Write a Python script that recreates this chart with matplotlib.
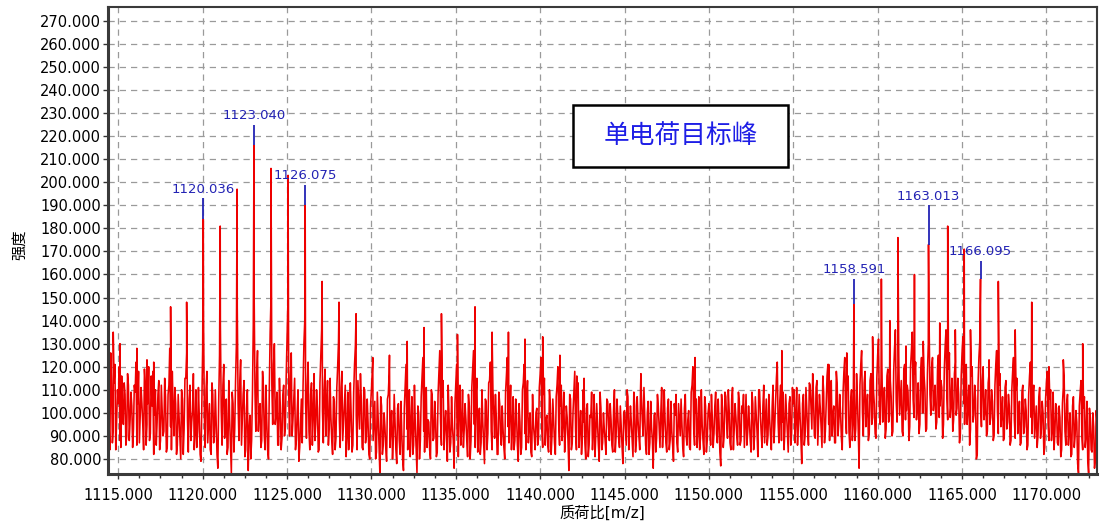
"""Spectre de masse : amas d'ions à charge unique, avec pics annotés."""

import numpy as np
import matplotlib

matplotlib.use("Agg")
import matplotlib.pyplot as plt
from matplotlib.patches import Rectangle
from matplotlib.ticker import FormatStrFormatter, MultipleLocator

plt.rcParams["font.family"] = ["DejaVu Sans", "Noto Sans CJK SC"]

RED = "#ee0000"
BLUE = "#2323b4"
GRID = "#9a9a9a"

# Bruit de fond, un point tous les 0,1 m/z à partir de 1114.4
NOISE_START = 1114.4
NOISE_STEP = 0.1
NOISE_ROWS = [
    [118, 84, 112, 92, 121, 96],
    [104, 88, 116, 95, 108, 90, 112, 97, 103, 93],
    [109, 86, 118, 99, 104, 84, 112, 95, 120, 91],
    [103, 82, 110, 96, 114, 88, 101, 92, 107, 85],
    [112, 94, 118, 90, 104, 86, 99, 80, 106, 93],
    [115, 97, 106, 88, 101, 84, 110, 92, 98, 79],
    [128, 99, 110, 87, 104, 82, 108, 91, 96, 76],
    [125, 101, 112, 89, 106, 85, 97, 74, 104, 93],
    [130, 104, 114, 86, 108, 81, 102, 75, 99, 88],
    [138, 109, 117, 92, 104, 88, 111, 84, 96, 80],
    [135, 112, 121, 95, 109, 86, 103, 89, 112, 94],
    [133, 108, 116, 90, 106, 84, 100, 79, 95, 87],
    [130, 104, 112, 92, 108, 86, 117, 95, 102, 84],
    [124, 101, 110, 90, 114, 93, 98, 82, 105, 89],
    [120, 97, 111, 88, 104, 81, 109, 92, 99, 86],
    [121, 99, 114, 93, 106, 84, 110, 90, 96, 80],
    [110, 88, 105, 83, 98, 74, 103, 86, 94, 79],
    [108, 85, 101, 89, 96, 78, 104, 82, 91, 75],
    [112, 93, 99, 81, 107, 86, 95, 74, 100, 88],
    [115, 92, 104, 85, 96, 80, 108, 89, 97, 83],
    [118, 96, 107, 84, 101, 79, 99, 87, 94, 76],
    [113, 90, 104, 86, 110, 93, 97, 81, 103, 88],
    [119, 95, 108, 83, 102, 87, 96, 78, 105, 91],
    [114, 92, 110, 89, 98, 82, 104, 86, 93, 80],
    [116, 94, 101, 84, 107, 88, 99, 79, 96, 85],
    [113, 91, 106, 87, 100, 81, 95, 84, 102, 89],
    [117, 93, 108, 86, 99, 83, 104, 90, 97, 82],
    [112, 95, 103, 88, 109, 91, 98, 75, 106, 87],
    [110, 92, 107, 85, 101, 89, 96, 80, 104, 86],
    [98, 84, 108, 91, 95, 79, 102, 87, 93, 82],
    [105, 88, 97, 83, 110, 90, 99, 85, 94, 78],
    [101, 86, 107, 92, 96, 81, 103, 88, 97, 84],
    [108, 90, 99, 82, 105, 87, 94, 76, 100, 89],
    [103, 85, 111, 93, 97, 83, 106, 88, 92, 79],
    [99, 87, 104, 90, 96, 81, 108, 86, 101, 84],
    [112, 93, 100, 85, 107, 89, 95, 82, 103, 88],
    [104, 86, 98, 91, 109, 87, 96, 77, 102, 90],
    [107, 89, 101, 84, 111, 93, 98, 86, 105, 88],
    [100, 85, 108, 92, 96, 83, 104, 89, 99, 81],
    [110, 91, 103, 87, 106, 90, 97, 84, 112, 94],
    [115, 96, 105, 88, 109, 92, 100, 83, 107, 91],
    [104, 87, 111, 95, 99, 78, 108, 90, 101, 86],
    [112, 93, 106, 89, 114, 97, 102, 85, 109, 92],
    [116, 95, 108, 90, 103, 87, 113, 96, 100, 84],
    [118, 98, 110, 92, 105, 88, 115, 93, 106, 76],
    [121, 100, 113, 94, 108, 91, 117, 98, 104, 89],
    [125, 103, 115, 96, 111, 93, 119, 99, 107, 92],
    [128, 105, 118, 99, 114, 90, 121, 101, 109, 94],
    [127, 106, 117, 97, 113, 95, 124, 100, 110, 93],
    [130, 108, 120, 101, 112, 96, 125, 103, 111, 95],
    [129, 107, 119, 98, 115, 97, 122, 102, 108, 91],
    [126, 104, 116, 95, 112, 93, 120, 99, 106, 82],
    [124, 102, 114, 97, 110, 92, 117, 98, 105, 90],
    [121, 100, 112, 94, 107, 89, 114, 96, 103, 88],
    [118, 97, 110, 91, 105, 87, 112, 94, 101, 86],
    [116, 98, 108, 89, 103, 90, 111, 93, 100, 85],
    [113, 95, 106, 88, 109, 91, 102, 86, 98, 84],
    [111, 92, 104, 86, 100, 82, 107, 90, 96, 74],
    [109, 90, 102, 85, 105, 74, 98, 83, 94, 80],
    [96],
]

# Points intermédiaires du bruit, décalés de +0,05 m/z
NOISE_MID_ROWS = [
    [95, 126, 87, 113, 84, 110],
    [120, 85, 101, 113, 86, 117, 88, 109, 85, 112],
    [122, 104, 87, 111, 95, 119, 86, 104, 88, 116],
    [118, 99, 86, 108, 84, 112, 90, 115, 83, 108],
    [128, 84, 102, 111, 82, 108, 91, 110, 82, 115],
    [126, 83, 112, 96, 117, 91, 85, 111, 82, 104],
    [142, 85, 118, 96, 84, 113, 87, 110, 82, 105],
    [138, 86, 121, 95, 82, 114, 86, 109, 83, 114],
    [146, 88, 123, 97, 114, 84, 110, 92, 80, 108],
    [152, 92, 127, 101, 85, 118, 90, 112, 84, 111],
    [150, 95, 130, 99, 86, 115, 84, 108, 90, 116],
    [148, 90, 126, 97, 115, 88, 110, 85, 106, 112],
    [140, 89, 122, 84, 113, 100, 88, 110, 83, 113],
    [136, 87, 119, 104, 86, 115, 88, 107, 84, 111],
    [131, 85, 118, 96, 112, 90, 84, 113, 83, 109],
    [129, 84, 103, 117, 85, 111, 87, 106, 82, 103],
    [118, 97, 80, 109, 86, 107, 82, 100, 85, 106],
    [117, 94, 80, 108, 84, 102, 88, 105, 80, 102],
    [121, 84, 110, 95, 82, 112, 84, 103, 80, 107],
    [124, 83, 111, 97, 84, 110, 88, 105, 81, 108],
    [127, 86, 114, 95, 89, 112, 83, 107, 88, 104],
    [121, 81, 112, 94, 85, 104, 88, 108, 80, 111],
    [127, 85, 115, 98, 82, 110, 87, 106, 84, 113],
    [122, 84, 101, 108, 82, 109, 91, 103, 85, 109],
    [124, 87, 112, 93, 84, 106, 86, 104, 82, 110],
    [121, 84, 114, 95, 83, 108, 90, 100, 86, 111],
    [124, 85, 115, 97, 86, 110, 82, 106, 87, 107],
    [120, 86, 112, 96, 83, 103, 88, 108, 84, 101],
    [118, 84, 113, 94, 82, 110, 87, 102, 81, 99],
    [109, 92, 81, 104, 86, 109, 84, 100, 88, 106],
    [95, 104, 86, 101, 83, 106, 89, 103, 86, 100],
    [93, 110, 84, 103, 88, 109, 83, 107, 90, 111],
    [97, 111, 86, 100, 82, 105, 88, 99, 83, 108],
    [94, 100, 85, 110, 87, 102, 84, 105, 86, 104],
    [108, 83, 97, 106, 85, 102, 90, 97, 85, 109],
    [120, 86, 106, 93, 84, 110, 88, 107, 83, 100],
    [97, 108, 85, 103, 91, 106, 83, 108, 85, 109],
    [96, 110, 87, 106, 84, 104, 90, 109, 86, 103],
    [108, 96, 86, 103, 88, 109, 84, 107, 92, 110],
    [99, 85, 112, 96, 86, 108, 90, 103, 87, 105],
    [122, 87, 112, 96, 84, 108, 91, 104, 86, 111],
    [110, 98, 86, 108, 89, 104, 86, 111, 92, 113],
    [102, 117, 90, 111, 86, 108, 93, 116, 87, 104],
    [121, 88, 114, 99, 87, 118, 90, 108, 89, 109],
    [124, 91, 116, 85, 110, 96, 88, 117, 92, 112],
    [127, 90, 118, 102, 88, 114, 95, 110, 91, 115],
    [132, 95, 121, 103, 89, 116, 96, 114, 90, 118],
    [136, 96, 125, 107, 92, 119, 97, 112, 88, 120],
    [135, 98, 122, 103, 91, 118, 100, 116, 92, 117],
    [138, 99, 124, 106, 93, 120, 98, 114, 89, 119],
    [136, 97, 126, 104, 92, 117, 99, 115, 87, 116],
    [133, 95, 121, 102, 86, 116, 96, 112, 80, 113],
    [131, 94, 120, 101, 90, 113, 95, 110, 88, 112],
    [127, 91, 117, 99, 88, 111, 93, 108, 86, 110],
    [124, 89, 115, 97, 86, 109, 91, 106, 84, 108],
    [122, 91, 112, 96, 85, 107, 89, 105, 82, 106],
    [118, 88, 110, 93, 84, 104, 87, 103, 81, 104],
    [116, 86, 108, 92, 81, 103, 85, 101, 78, 103],
    [114, 84, 107, 90, 79, 102, 84, 100, 76, 101],
]

# Pics isotopiques (m/z, intensité)
PEAK_MZ = [
    1114.7, 1115.1, 1116.1, 1116.7, 1117.1, 1118.1, 1119.05, 1120.036,
    1121.04, 1122.04, 1123.040, 1124.05, 1125.06, 1126.075, 1127.08,
    1128.08, 1129.09, 1130.08, 1131.07, 1132.12, 1133.12, 1134.15, 1135.1,
    1136.14, 1137.15, 1138.12, 1139.1, 1140.15, 1141.17, 1142.17, 1142.6,
    1145.97, 1149.18, 1154.32, 1157.1, 1158.17, 1158.591, 1159.7, 1160.22,
    1160.72, 1161.2, 1161.68, 1162.18, 1162.7, 1163.013, 1163.68, 1164.15,
    1164.6, 1165.13, 1165.5, 1166.095, 1166.6, 1167.15, 1168.15, 1169.13,
    1170.15, 1171.0, 1172.15,
]
PEAK_INT = [
    135, 130, 128, 123, 122, 146, 148, 184,
    181, 197, 216, 206, 203, 190, 157,
    148, 143, 124, 125, 131, 137, 143, 134,
    146, 135, 135, 132, 133, 125, 116, 115,
    117, 124, 127, 121, 126, 147, 133, 158,
    140, 176, 129, 160, 131, 173, 139, 181,
    136, 171, 136, 158, 123, 157, 136, 148,
    120, 123, 130,
]

# Pics étiquetés et sommet du repère bleu
LABEL_MZ = [1120.036, 1123.040, 1126.075, 1158.591, 1163.013, 1166.095]
LABEL_TOP = [193, 225, 199, 158, 190, 166]

X_TICKS = [1115, 1120, 1125, 1130, 1135, 1140, 1145, 1150, 1155, 1160, 1165, 1170]
Y_TICKS = list(range(80, 271, 10))

noise = np.concatenate([np.array(r, dtype=float) for r in NOISE_ROWS])
noise_mz = np.round(NOISE_START + NOISE_STEP * np.arange(noise.size), 2)
mid = np.concatenate([np.array(r, dtype=float) for r in NOISE_MID_ROWS])
mid_mz = noise_mz[: mid.size] + NOISE_STEP / 2

mz = np.concatenate([noise_mz, mid_mz, PEAK_MZ])
inten = np.concatenate([noise, mid, PEAK_INT])
order = np.argsort(mz, kind="stable")
mz, inten = mz[order], inten[order]

fig = plt.figure(figsize=(11.02, 5.29), dpi=100)
ax = fig.add_axes([0.098, 0.104, 0.8975, 0.8828])

ax.plot(mz, inten, color=RED, lw=1.15, zorder=2)

# repères bleus au sommet des pics étiquetés
peak_h = [PEAK_INT[PEAK_MZ.index(m)] for m in LABEL_MZ]
ax.vlines(LABEL_MZ, peak_h, LABEL_TOP, color=BLUE, lw=1.3, zorder=3)
for m, top in zip(LABEL_MZ, LABEL_TOP):
    ax.annotate(f"{m:.3f}", (m, top), xytext=(0, 2), textcoords="offset points",
                ha="center", va="bottom", fontsize=9.5, color=BLUE)

# encadré du titre
ax.add_patch(Rectangle((0.470, 0.657), 0.218, 0.133, transform=ax.transAxes,
                       facecolor="white", edgecolor="black", linewidth=1.8, zorder=5))
ax.text(0.579, 0.722, "单电荷目标峰", transform=ax.transAxes, ha="center", va="center",
        fontsize=18.5, color="#1e1ee6", family=["Noto Sans CJK SC"], zorder=6)

ax.set_xlim(1114.39, 1173.0)
ax.set_ylim(73.5, 276)
ax.set_xticks(X_TICKS)
ax.set_yticks(Y_TICKS)
ax.xaxis.set_minor_locator(MultipleLocator(1.25))
ax.xaxis.set_major_formatter(FormatStrFormatter("%.3f"))
ax.yaxis.set_major_formatter(FormatStrFormatter("%.3f"))
ax.tick_params(axis="both", which="major", labelsize=10.5, length=3.5, width=1, color="#333333")
ax.tick_params(axis="x", which="major", pad=6.5)
ax.tick_params(axis="y", which="major", pad=1.5)
ax.tick_params(axis="x", which="minor", length=3, width=1, color="#333333")

ax.grid(True, which="major", color=GRID, linestyle=(0, (5, 4)), linewidth=0.9, zorder=0)
for side in ("left", "bottom"):
    ax.spines[side].set_linewidth(2.2)
    ax.spines[side].set_color("#3a3a3a")
for side in ("top", "right"):
    ax.spines[side].set_linewidth(1.5)
    ax.spines[side].set_color("#3a3a3a")

ax.set_xlabel("质荷比[m/z]", fontsize=11, labelpad=2)
ax.set_ylabel("强度", fontsize=11)
ax.yaxis.set_label_coords(-0.082, 0.49)

fig.savefig("out.png", dpi=100)
